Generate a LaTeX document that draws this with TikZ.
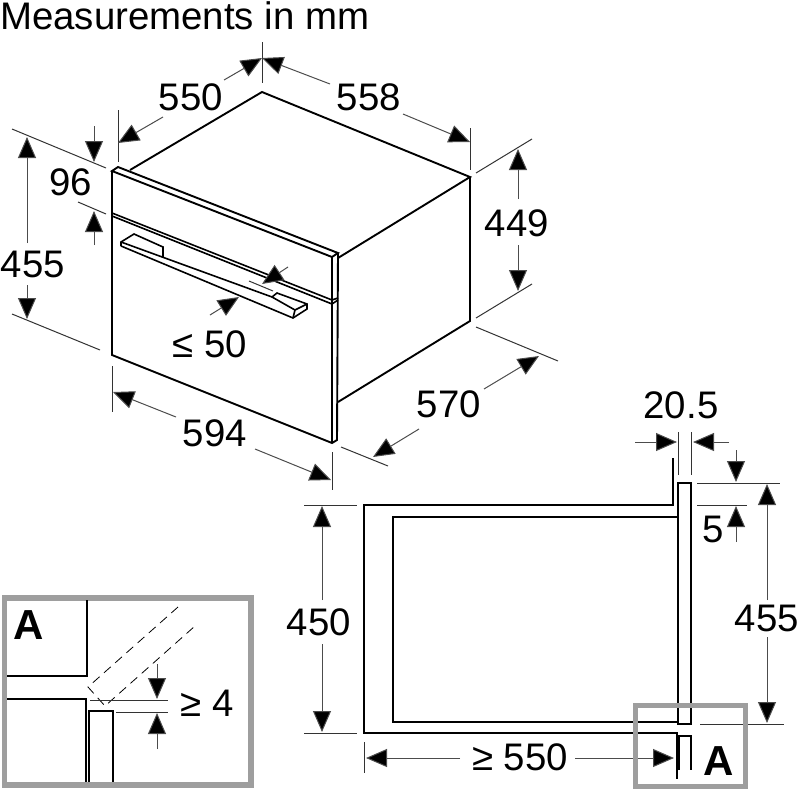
\documentclass[tikz,border=0pt]{standalone}
\usepackage{fontspec}
\setmainfont{Liberation Sans}
\usetikzlibrary{arrows.meta}
\tikzset{x=1pt, y=-1pt,
  body/.style={line width=1.9pt, black, line join=miter},
  slim/.style={line width=1.6pt, black},
  thin line/.style={line width=1pt, black!80},
  dim/.style={line width=1pt, black!70, -{Triangle[length=21pt,width=18pt,fill=black]}},
  label/.style={font=\fontsize{38.4}{40}\selectfont, inner sep=0pt, xshift=1pt},
  tag/.style={font=\fontsize{42}{44}\selectfont\bfseries, inner sep=0pt},
  frame/.style={line width=5.5pt, black!38}}

\begin{document}
\begin{tikzpicture}
  \useasboundingbox (0,0) rectangle (800,790);

  \node (title)[label, anchor=base west] at (-1,29.5) {Measurements in mm};

  % oven
  \draw[body] (130,170) -- (262,92) -- (470,177) -- (338,258);
  \draw[body] (470,177) -- (470,321) -- (338,402);
  \draw[body] (112,171) -- (118,167) -- (338,253) -- (332,257) -- cycle;
  \draw[body] (112,171) -- (112,355) -- (332,443) -- (337,440) -- (338,253);
  \draw[body] (332,257) -- (332,443);
  \draw[slim] (112,213) -- (332,300) -- (338,298);
  \draw[slim] (112,216) -- (332,304) -- (338,300);
  % handle
  \draw[slim] (121,246) -- (121,242) -- (134,234) -- (163,247) -- (163,257);
  \draw[slim] (121,242) -- (272,297) -- (277,293) -- (307,304) -- (307,309) -- (293,318) -- (121,246);
  \draw[slim] (293,318) -- (295,310) -- (307,304);
  \draw[slim] (272,297) -- (295,310);

  % top dims
  \draw[thin line] (262,42) -- (262,83);
  \draw[thin line] (118,110) -- (118,162);
  \draw[thin line] (470,128) -- (470,170);
  \draw[dim] (224,80) -- (262,58);
  \draw[dim] (163,117) -- (118,143);
  \draw[dim] (330,84) -- (262,58);
  \draw[dim] (403,114) -- (470,142);
  \node (w550)[label] at (190,97) {550};
  \node (w558)[label] at (368,97) {558};

  % left dims
  \draw[thin line] (12,129) -- (106,168);
  \draw[thin line] (78,202) -- (106,214);
  \draw[thin line] (12,314) -- (100,350);
  \draw[dim] (27,243) -- (27,137);
  \draw[dim] (27,285) -- (27,319);
  \draw[dim] (94,126) -- (94,162);
  \draw[dim] (94,245) -- (94,211);
  \node (h96)[label] at (70,182) {96};
  \node (h455)[label] at (32,264) {455};

  % right dims
  \draw[thin line] (476,173) -- (532,139);
  \draw[thin line] (476,318) -- (532,284);
  \draw[thin line] (476,327) -- (558,361);
  \draw[dim] (518,199) -- (518,149);
  \draw[dim] (518,245) -- (518,291);
  \node (h449)[label] at (516,223) {449};

  % handle gap
  \draw[thin line] (249,281) -- (273,291);
  \draw[dim] (288,267) -- (262,284);
  \draw[dim] (210,315) -- (239,297);
  \node (gap)[label] at (209,344) {≤ 50};

  % bottom dims
  \draw[thin line] (112,366) -- (112,412);
  \draw[thin line] (332,452) -- (332,490);
  \draw[thin line] (341,447) -- (388,466);
  \draw[dim] (176,417) -- (113,392);
  \draw[dim] (255,449) -- (331,480);
  \draw[dim] (484,389) -- (539,356);
  \draw[dim] (419,429) -- (373,457);
  \node (w594)[label] at (214,433) {594};
  \node (d570)[label] at (448,404) {570};

  % niche section
  \draw[slim] (673,458) -- (673,505) -- (364,505) -- (364,733) -- (677,733) -- (677,779);
  \draw[slim] (678,517) -- (393,517) -- (393,722) -- (678,722);
  \draw[slim] (678,724) -- (678,483) -- (691,483) -- (691,724) -- cycle;
  \draw[slim] (679,770) -- (679,736) -- (691,736) -- (691,770);

  % section dims
  \draw[thin line] (304,505) -- (357,505);
  \draw[thin line] (304,733) -- (357,733);
  \draw[dim] (322,600) -- (322,506);
  \draw[dim] (322,644) -- (322,732);
  \node (h450)[label] at (318,622) {450};

  \draw[thin line] (364,742) -- (364,773);
  \draw[dim] (460,758) -- (366,758);
  \draw[dim] (575,758) -- (674,758);
  \node (d550)[label] at (519,757) {≥ 550};

  \draw[thin line] (678,432) -- (678,475);
  \draw[thin line] (691,432) -- (691,475);
  \draw[dim] (635,442) -- (677,442);
  \draw[dim] (729,442) -- (693,442);
  \node (t205)[label] at (680,405) {20.5};

  \draw[thin line] (697,483) -- (780,483);
  \draw[thin line] (697,505) -- (747,505);
  \draw[thin line] (700,724) -- (784,724);
  \draw[dim] (736,450) -- (736,482);
  \draw[dim] (736,542) -- (736,506);
  \draw[dim] (767,600) -- (767,484);
  \draw[dim] (767,637) -- (767,723);
  \node (t5)[label] at (712,529) {5};
  \node (t455)[label] at (766,618) {455};

  % detail A
  \draw[frame] (635.5,705.5) rectangle (745.5,786.5);
  \node (tagA)[tag] at (719,761) {A};

  \draw[frame] (4.5,598) rectangle (251,785);
  \node (tagB)[tag] at (29,625) {A};
  \draw[slim] (7,676) -- (87,676) -- (87,600);
  \draw[slim] (7,699) -- (86,699) -- (86,782);
  \draw[slim] (89,782) -- (89,711) -- (113,711) -- (113,782);
  \draw[line width=0.8pt, dash pattern=on 9pt off 6pt] (178,607) -- (88,687) -- (105,706) -- (195,626);

  \draw[thin line] (90,700) -- (168,700);
  \draw[thin line] (116,712) -- (168,712);
  \draw[dim] (157,664) -- (157,699);
  \draw[dim] (157,749) -- (157,713);
  \node (g4)[label] at (206,703) {≥ 4};
\end{tikzpicture}
\end{document}
